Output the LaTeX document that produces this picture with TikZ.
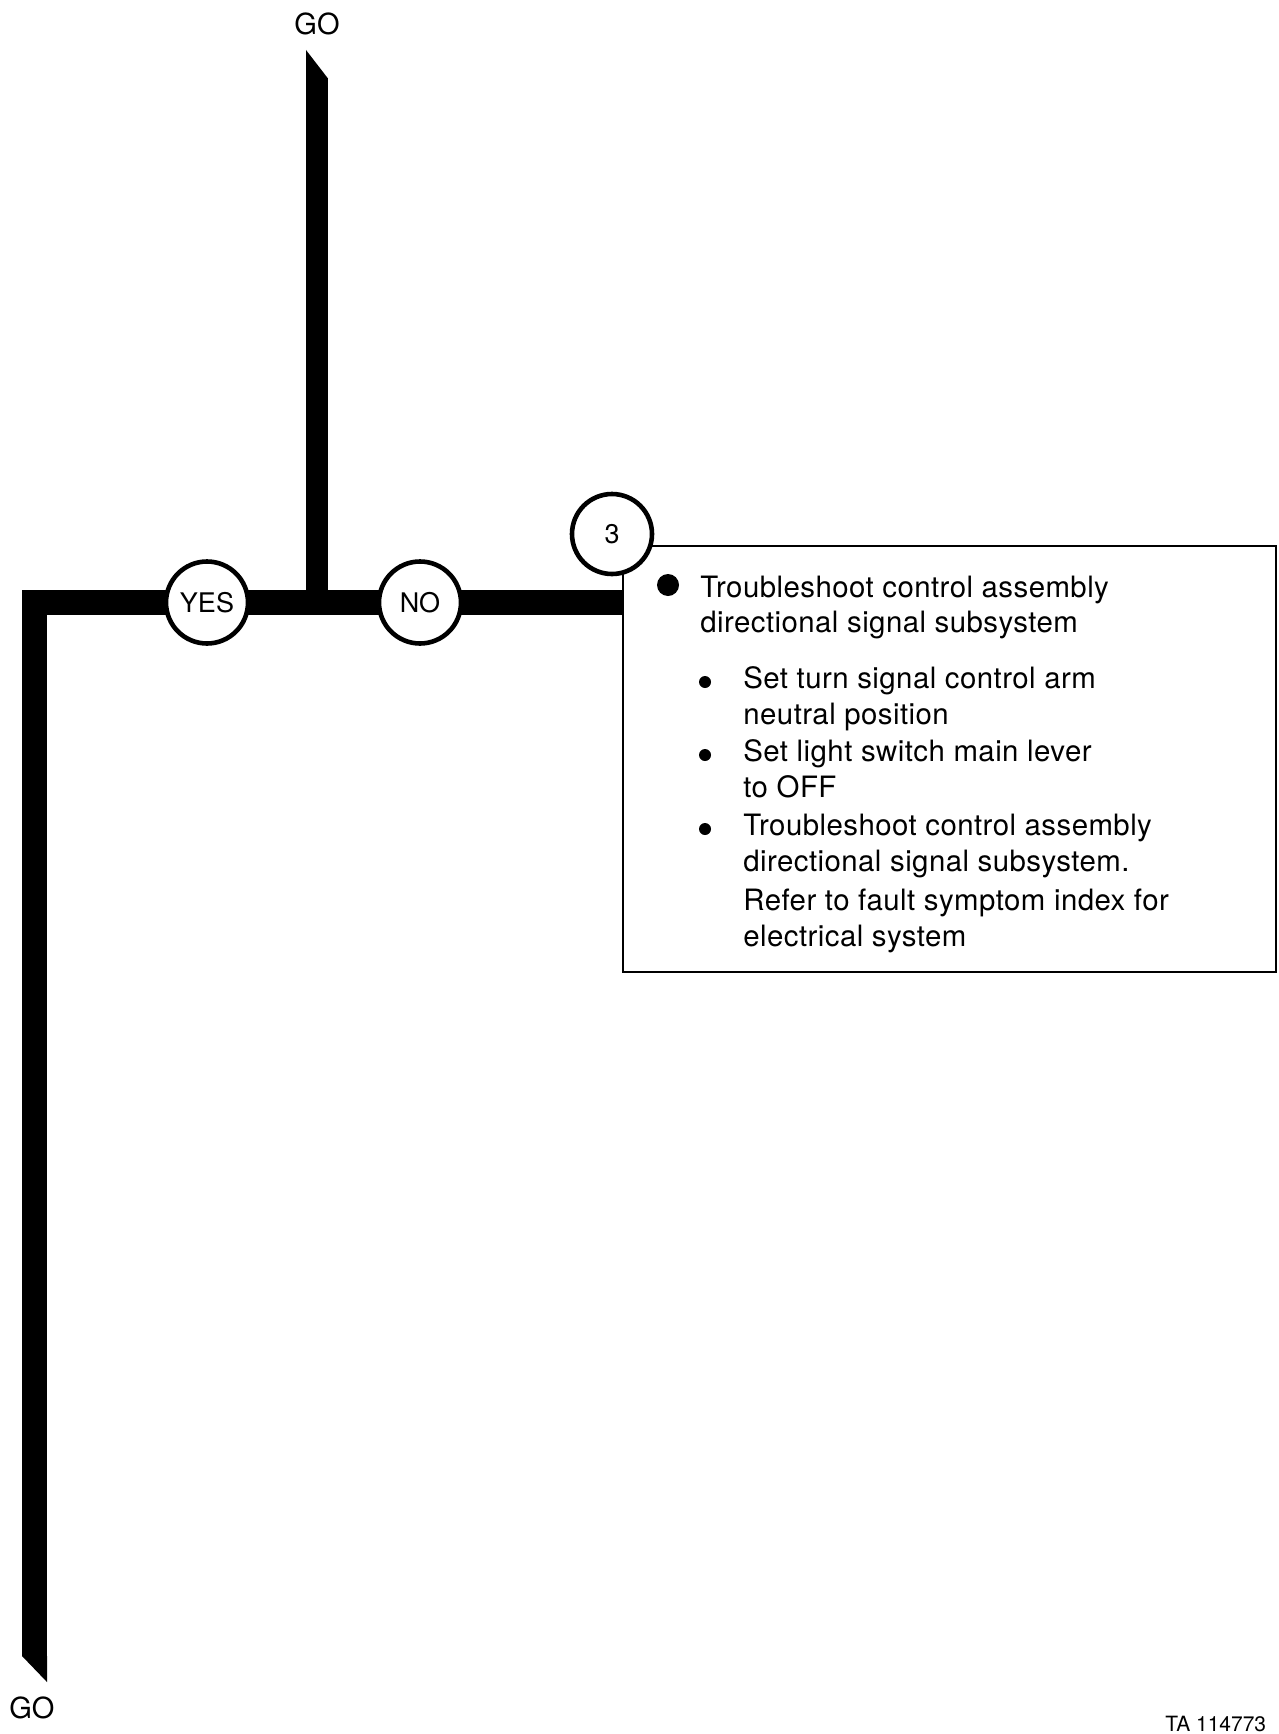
\documentclass[tikz,border=0pt]{standalone}
\usepackage{fontspec}
\setmainfont{TeX Gyre Heros}
\newfontfamily\boxfont[LetterSpace=1.5]{TeX Gyre Heros}
\begin{document}
\begin{tikzpicture}[x=0.5pt,y=-0.5pt]
\tikzset{
  hbar/.style={line width=12.5pt, line cap=butt, line join=miter},
  vbar/.style={line width=11pt, line cap=butt},
  circ/.style={circle, draw, line width=2.3pt, fill=white, minimum size=41pt, inner sep=0pt, font=\fontsize{13.5}{16}\selectfont},
  txt/.style={anchor=base west, inner sep=0pt, font=\boxfont\fontsize{14.7}{18}\selectfont},
  golbl/.style={inner sep=0pt, font=\fontsize{14.5}{16}\selectfont},
  boxstyle/.style={draw, line width=1pt, inner sep=0pt, minimum width=326.5pt, minimum height=213pt, anchor=north west}
}
\useasboundingbox (0,0) rectangle (1279,1734);

% coordinates
\coordinate (corner) at (34.5,602.5);
\coordinate (botend) at (34.5,1656);
\coordinate (yesc) at (207,602.5);
\coordinate (noc) at (420,602.5);
\coordinate (junc) at (317,602.5);
\coordinate (topend) at (317,78);

% box
\node[boxstyle] (box) at (622,545) {};

% bars
\draw[hbar] (botend) -- (corner) -- (yesc) -- (noc) -- (box.west |- noc);
\draw[vbar] (junc) -- (topend);
\fill (22,1656) -- (47,1656) -- (47,1682) -- cycle;
\fill (306,78.5) -- (328,78.5) -- (306,50) -- cycle;

% circles
\node[circ] (yes) at (yesc) {YES};
\node[circ] (no) at (noc) {NO};
\node[circ, minimum size=40pt] (three) at (612,534) {3};

% GO labels
\node[golbl] (gotop) at (317,24) {GO};
\node[golbl] (gobot) at (32,1708) {GO};
\node[anchor=south west, inner sep=0pt, font=\fontsize{10.5}{12}\selectfont] (ta) at (1165,1732) {TA 114773};

% box text
\fill (668,585) circle (11);
\node[txt] (l1) at (700,597) {Troubleshoot control assembly};
\node[txt] (l2) at (700,632) {directional signal subsystem};

\fill (705,682) circle (6);
\node[txt] (l3) at (743,688) {Set turn signal control arm};
\node[txt] (l4) at (743,724) {neutral position};

\fill (705,755) circle (6);
\node[txt] (l5) at (743,761) {Set light switch main lever};
\node[txt] (l6) at (743,797) {to OFF};

\fill (705,829) circle (6);
\node[txt] (l7) at (743,835) {Troubleshoot control assembly};
\node[txt] (l8) at (743,871) {directional signal subsystem.};
\node[txt] (l9) at (743,910) {Refer to fault symptom index for};
\node[txt] (l10) at (743,946) {electrical system};
\end{tikzpicture}
\end{document}
